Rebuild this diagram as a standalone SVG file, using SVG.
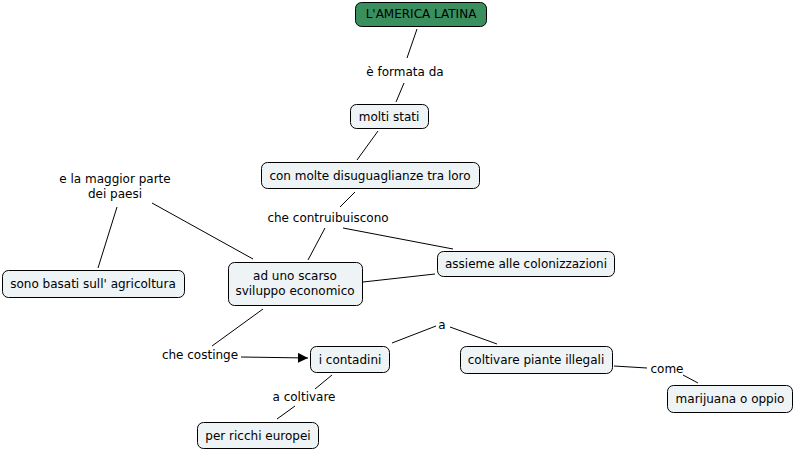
<svg xmlns="http://www.w3.org/2000/svg" width="795" height="450" viewBox="0 0 795 450">
<style>
.n rect{fill:#eef3f5;stroke:#000;stroke-width:1}
.r rect{fill:#3a8f5e;stroke:#000;stroke-width:1}
text{font-family:"DejaVu Sans",Verdana,sans-serif;font-size:12px;fill:#000;text-anchor:middle}
.c line{stroke:#000;stroke-width:1}
</style>
<defs>
<marker id="ah" viewBox="0 0 10 10" refX="10" refY="5" markerWidth="10" markerHeight="10" markerUnits="userSpaceOnUse" orient="auto"><path d="M0,0 L10,5 L0,10 z" fill="#000"/></marker>
</defs>
<rect width="795" height="450" fill="#fff"/>
<g class="c">
<line x1="417" y1="29" x2="407" y2="58"/>
<line x1="404" y1="83" x2="396" y2="102"/>
<line x1="378" y1="131" x2="357" y2="160"/>
<line x1="355" y1="192" x2="340" y2="207"/>
<line x1="325" y1="228" x2="308" y2="260"/>
<line x1="343" y1="228" x2="453" y2="249"/>
<line x1="363" y1="282" x2="435" y2="274"/>
<line x1="152" y1="203" x2="253" y2="259"/>
<line x1="117" y1="207" x2="98" y2="268"/>
<line x1="263" y1="309" x2="212" y2="346"/>
<line x1="241" y1="357" x2="308" y2="358" marker-end="url(#ah)"/>
<line x1="392" y1="343" x2="436" y2="326"/>
<line x1="450" y1="327" x2="497" y2="344"/>
<line x1="614" y1="366" x2="647" y2="368"/>
<line x1="683" y1="375" x2="698" y2="383"/>
<line x1="332" y1="375" x2="315" y2="389"/>
<line x1="295" y1="406" x2="277" y2="419"/>
</g>
<g id="lp1"><text x="405" y="76">è formata da</text></g>
<g id="lp2"><text x="115" y="183">e la maggior parte</text><text x="115" y="198">dei paesi</text></g>
<g id="lp3"><text x="328" y="222">che contruibuiscono</text></g>
<g id="lp4"><text x="200" y="359">che costinge</text></g>
<g id="lp5"><text x="442" y="329">a</text></g>
<g id="lp6"><text x="304" y="401">a coltivare</text></g>
<g id="lp7"><text x="667" y="373">come</text></g>
<g id="n1" class="r"><rect x="355.5" y="2.5" width="131" height="24" rx="6"/><text x="421" y="18">L'AMERICA LATINA</text></g>
<g id="n2" class="n"><rect x="350.5" y="104.5" width="78" height="24" rx="6"/><text x="389" y="121">molti stati</text></g>
<g id="n3" class="n"><rect x="261.5" y="162.5" width="218" height="26" rx="6"/><text x="370" y="180">con molte disuguaglianze tra loro</text></g>
<g id="n4" class="n"><rect x="2.5" y="270.5" width="182" height="27" rx="6"/><text x="93" y="288">sono basati sull' agricoltura</text></g>
<g id="n5" class="n"><rect x="228.5" y="262.5" width="134" height="43" rx="6"/><text x="295" y="280">ad uno scarso</text><text x="295" y="295">sviluppo economico</text></g>
<g id="n6" class="n"><rect x="437.5" y="251.5" width="177" height="25" rx="6"/><text x="526" y="268">assieme alle colonizzazioni</text></g>
<g id="n7" class="n"><rect x="310.5" y="346.5" width="79" height="26" rx="6"/><text x="350" y="364">i contadini</text></g>
<g id="n8" class="n"><rect x="460.5" y="346.5" width="152" height="27" rx="6"/><text x="536" y="364">coltivare piante illegali</text></g>
<g id="n9" class="n"><rect x="667.5" y="385.5" width="125" height="27" rx="6"/><text x="730" y="403">marijuana o oppio</text></g>
<g id="n10" class="n"><rect x="197.5" y="422.5" width="121" height="26" rx="6"/><text x="258" y="440">per ricchi europei</text></g>
</svg>
